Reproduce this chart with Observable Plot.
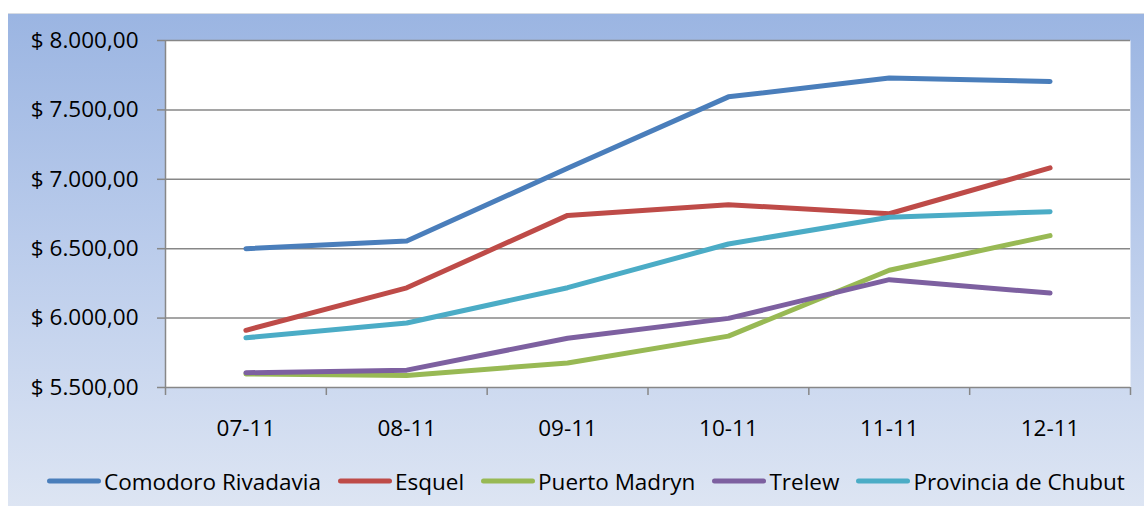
<!DOCTYPE html>
<html>
<head>
<meta charset="utf-8">
<script src="https://cdn.jsdelivr.net/npm/d3@7"></script>
<script src="https://cdn.jsdelivr.net/npm/@observablehq/plot@0.6"></script>
<style>
  html, body { margin: 0; padding: 0; background: white; }
  #panel {
    position: absolute; left: 8px; top: 13px; width: 1136px; height: 493px;
    background: linear-gradient(to bottom, #9BB5E2 0%, #B9CBEB 45%, #DDE5F3 100%);
    border-top: 1px solid #d6dbe3;
    font-family: "Open Sans", Lato, sans-serif;
  }
  #chart { position: absolute; left: 0; top: 0; }
  #legend {
    position: absolute; left: 39px; top: 454px; height: 26px;
    display: flex; align-items: center; gap: 17px;
    font-size: 22.5px; color: black; white-space: nowrap;
  }
  .item { display: flex; align-items: center; }
  .item svg { display: block; margin-right: 3px; }
</style>
</head>
<body>
<div id="panel">
  <div id="chart"></div>
  <div id="legend"></div>
</div>
<script>
const categories = ["07-11", "08-11", "09-11", "10-11", "11-11", "12-11"];
const seriesNames = ["Comodoro Rivadavia", "Esquel", "Puerto Madryn", "Trelew", "Provincia de Chubut"];
const comodoro = [6500, 6555, 7080, 7594, 7730, 7705];
const esquel   = [5912, 6218, 6740, 6817, 6752, 7082];
const madryn   = [5598, 5587, 5677, 5870, 6345, 6594];
const trelew   = [5606, 5625, 5855, 5998, 6277, 6180];
const chubut   = [5858, 5965, 6219, 6534, 6727, 6767];
const seriesColors = ["#4A7EBB", "#BE4B48", "#98B954", "#7D60A0", "#4BACC6"];
const yTicks = [5500, 6000, 6500, 7000, 7500, 8000];

const seriesValues = [comodoro, esquel, madryn, trelew, chubut];
const rows = seriesNames.flatMap((s, k) =>
  seriesValues[k].map((v, i) => ({series: s, pos: i + 0.5, value: v})));

const locale = d3.formatLocale({decimal: ",", thousands: ".", grouping: [3], currency: ["$ ", ""]});
const fmt = locale.format("$,.2f");
const grid = "#878787";

const chart = Plot.plot({
  width: 1136,
  height: 440,
  marginLeft: 157,
  marginRight: 14,
  marginTop: 26,
  marginBottom: 67,
  style: {background: "transparent", fontFamily: "'Open Sans', Lato, sans-serif", fontSize: "22.5px", color: "black"},
  x: {domain: [0, categories.length], axis: null},
  y: {domain: [yTicks[0], yTicks[yTicks.length - 1]], axis: null},
  color: {domain: seriesNames, range: seriesColors},
  marks: [
    Plot.frame({fill: "white"}),
    Plot.ruleY(yTicks.slice(1), {stroke: grid, strokeWidth: 1.5}),
    Plot.axisY(yTicks, {anchor: "left", tickSize: 8, tickPadding: 19, tickFormat: fmt,
      stroke: grid, strokeWidth: 1.5, fill: "black", label: null, fontSize: 22.5}),
    Plot.axisX(d3.range(categories.length + 1), {anchor: "bottom", tickSize: 8, tickFormat: () => "",
      stroke: grid, strokeWidth: 1.5, label: null}),
    Plot.axisX(categories.map((c, i) => i + 0.5), {anchor: "bottom", tickSize: 0, tickPadding: 33,
      tickFormat: v => categories[Math.round(v - 0.5)], fill: "black", label: null, fontSize: 22.5}),
    Plot.ruleX([0], {stroke: grid, strokeWidth: 1.5}),
    Plot.ruleY([yTicks[0]], {stroke: grid, strokeWidth: 1.5}),
    Plot.line(rows, {x: "pos", y: "value", z: "series", stroke: "series",
      strokeWidth: 5, strokeLinecap: "round", strokeLinejoin: "round"})
  ]
});
document.getElementById("chart").appendChild(chart);

const legend = document.getElementById("legend");
seriesNames.forEach((name, k) => {
  const item = document.createElement("div");
  item.className = "item";
  item.innerHTML = `<svg width="54" height="8"><line x1="2.5" x2="51.5" y1="4" y2="4" stroke="${seriesColors[k]}" stroke-width="5" stroke-linecap="round"/></svg><span>${name}</span>`;
  legend.appendChild(item);
});
</script>
</body>
</html>
